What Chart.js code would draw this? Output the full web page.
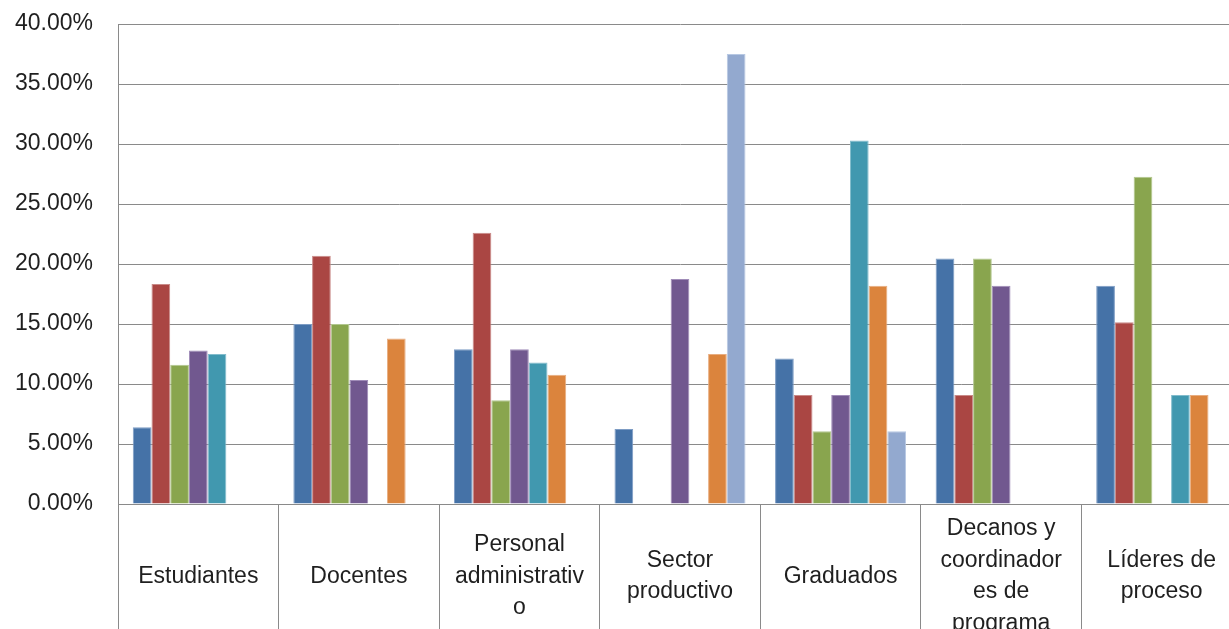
<!DOCTYPE html>
<html>
<head>
<meta charset="utf-8">
<script src="https://cdn.jsdelivr.net/npm/chart.js@4"></script>
<style>
  html, body { margin: 0; padding: 0; background: #ffffff; overflow: hidden; }
  #wrap { position: relative; width: 1242px; height: 637px; }
</style>
</head>
<body>
<div id="wrap"><canvas id="c"></canvas></div>
<script>
const categories = [
  "Estudiantes",
  "Docentes",
  ["Personal", "administrativ", "o"],
  ["Sector", "productivo"],
  "Graduados",
  ["Decanos y", "coordinador", "es de", "programa"],
  ["Líderes de", "proceso"]
];

const seriesNames = ["Serie 1", "Serie 2", "Serie 3", "Serie 4", "Serie 5", "Serie 6", "Serie 7"];

const serie1 = [6.4, 15.0, 12.9, 6.25, 12.12, 20.45, 18.18];
const serie2 = [18.33, 20.69, 22.6, null, 9.09, 9.09, 15.15];
const serie3 = [11.6, 15.0, 8.64, null, 6.06, 20.45, 27.27];
const serie4 = [12.8, 10.34, 12.9, 18.75, 9.09, 18.18, null];
const serie5 = [12.5, null, 11.8, null, 30.3, null, 9.09];
const serie6 = [null, 13.79, 10.78, 12.5, 18.18, null, 9.09];
const serie7 = [null, null, null, 37.5, 6.06, null, null];

const yTicks = [0, 5, 10, 15, 20, 25, 30, 35, 40];

const colors = ["#4572A7", "#AA4643", "#89A54E", "#71588F", "#4198AF", "#DB843D", "#93A9CF"];
const edgeColors = ["#7d9cc4", "#c98a88", "#b2c78f", "#a08cb8", "#82bccc", "#e8ad80", "#b7c8e3"];

const allSeries = [serie1, serie2, serie3, serie4, serie5, serie6, serie7];

const datasets = allSeries.map((d, i) => ({
  label: seriesNames[i],
  data: d,
  backgroundColor: colors[i],
  borderColor: edgeColors[i],
  borderWidth: 1,
  borderSkipped: 'bottom',
  barPercentage: 1.0,
  categoryPercentage: 0.816
}));

const xFont = { family: "'Liberation Sans', Arial, sans-serif", size: 23, lineHeight: 1.37 };
const yFont = { family: "'Liberation Sans', Arial, sans-serif", size: 23, lineHeight: 1.2 };

new Chart(document.getElementById('c'), {
  type: 'bar',
  data: { labels: categories, datasets: datasets },
  options: {
    responsive: true,
    maintainAspectRatio: false,
    animation: false,
    layout: { padding: { left: 15, top: 24, right: 0, bottom: 0 } },
    plugins: {
      legend: { display: false },
      tooltip: { enabled: false },
      title: { display: false }
    },
    scales: {
      x: {
        offset: true,
        afterFit: (axis) => { axis.height = 133; },
        grid: {
          display: true,
          offset: true,
          drawOnChartArea: false,
          drawTicks: true,
          tickLength: 140,
          color: '#8a8a8a',
          lineWidth: 1
        },
        border: { display: true, color: '#8a8a8a', width: 1 },
        ticks: {
          autoSkip: false,
          maxRotation: 0,
          minRotation: 0,
          padding: -115,
          crossAlign: 'center',
          color: '#1f1f1f',
          font: xFont
        }
      },
      y: {
        min: 0,
        max: 40,
        afterBuildTicks: (axis) => { axis.ticks = yTicks.map(v => ({ value: v })); },
        afterFit: (axis) => { axis.width = 103; axis.paddingTop = 0; axis.paddingBottom = 0; },
        grid: {
          color: '#8a8a8a',
          lineWidth: 1,
          drawTicks: false
        },
        border: { display: true, color: '#8a8a8a', width: 1 },
        ticks: {
          padding: 25,
          color: '#1f1f1f',
          font: yFont,
          callback: (v) => Number(v).toFixed(2) + '%'
        }
      }
    }
  }
});
</script>
</body>
</html>
